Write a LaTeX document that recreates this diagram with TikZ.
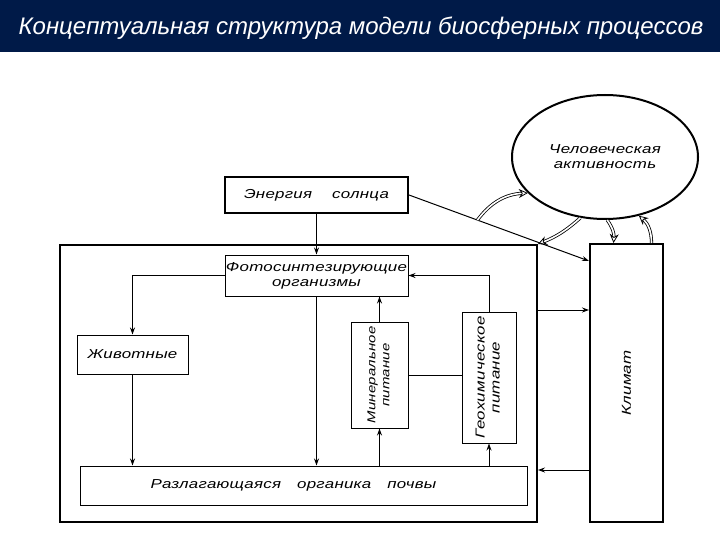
\documentclass[tikz,border=0pt]{standalone}
\usepackage{graphicx}
\usepackage{fontspec}
\setmainfont{Liberation Sans}
\newfontfamily\boxfont[FakeStretch=1.3,LetterSpace=2]{Liberation Sans}
\usetikzlibrary{shapes.geometric,arrows.meta,positioning,calc}
\definecolor{slidenavy}{RGB}{0,26,72}

\begin{document}
\begin{tikzpicture}[
  x=1pt, y=-1pt,
  box/.style={rectangle, draw, line width=1pt, fill=white, inner sep=0pt, align=center, font=\boxfont\itshape\fontsize{13}{15}\selectfont},
  heavy/.style={box, line width=2pt},
  arrow/.style={-{Stealth[length=7pt,width=5pt]}, line width=1pt},
  hollow/.style={double, double distance=1.6pt, line width=0.8pt, -{Stealth[open,length=9pt,width=9pt]}}
]
\useasboundingbox (0,0) rectangle (720,540);

% Title bar
\fill[slidenavy] (0,0) rectangle (720,52);
\node[anchor=west, text=white, font=\itshape\fontsize{24}{27}\selectfont] (title) at (15,28) {Концептуальная структура модели биосферных процессов};

% Outer system and climate
\node[heavy, minimum width=477pt, minimum height=277pt] (system) at (298.5,383.5) {};
\node[heavy, minimum width=73pt, minimum height=278pt] (climate) at (626.5,383) {\rotatebox{90}{Климат}};
\node[ellipse, draw, line width=2pt, fill=white, minimum width=186pt, minimum height=124pt, align=center, font=\boxfont\itshape\fontsize{13}{15}\selectfont] (human) at (605,157) {Человеческая\\активность};

% Boxes
\node[heavy, minimum width=183pt, minimum height=36pt] (energy) at (316.5,195) {Энергия\hspace{20pt}солнца};
\node[box, minimum width=183pt, minimum height=41pt] (photo) at (316.5,275.5) {Фотосинтезирующие\\организмы};
\node[box, minimum width=111pt, minimum height=39pt] (animals) at (132.5,354.5) {Животные};
\node[box, minimum width=57pt, minimum height=106pt, font=\boxfont\itshape\fontsize{11.5}{14}\selectfont] (minerals) at (379.5,375) {\rotatebox{90}{\begin{tabular}{@{}c@{}}Минеральное\\питание\end{tabular}}};
\node[box, minimum width=54pt, minimum height=131pt] (geochem) at (489,377.5) {\rotatebox{90}{\begin{tabular}{@{}c@{}}Геохимическое\\питание\end{tabular}}};
\node[box, minimum width=447pt, minimum height=39pt] (soil) at (303.5,485.5) {\hspace*{-20pt}Разлагающаяся\hspace{16pt}органика\hspace{16pt}почвы};

% Levels for side arrows
\coordinate (lvlin) at (0,310);
\coordinate (lvlout) at (0,470);
\coordinate (sunhit) at ([yshift=-18pt]climate.north west);
\coordinate (sunfork) at ($(energy.east)!0.38!(sunhit)$);

% Connectors
\draw[arrow] (energy.south) -- (photo.north);
\draw[arrow] (energy.east) -- (sunhit);
\draw[arrow] (photo.west) -| (animals.north);
\draw[arrow] (animals.south) -- (animals.south |- soil.north);
\draw[arrow] (photo.south) -- (photo.south |- soil.north);
\draw[arrow] (minerals.south |- soil.north) -- (minerals.south);
\draw[arrow] (minerals.north) -- (minerals.north |- photo.south);
\draw (minerals.east) -- (minerals.east -| geochem.west);
\draw[arrow] (geochem.south |- soil.north) -- (geochem.south);
\draw[arrow] (geochem.north) |- (photo.east);
\draw[arrow] (system.east |- lvlin) -- (climate.west |- lvlin);
\draw[arrow] (climate.west |- lvlout) -- (system.east |- lvlout);

% Links with human activity
\draw[hollow] (sunfork) to[bend left=25] (human.205);
\draw[hollow] (human.248) to[bend left=10] (system.north east);
\draw[hollow] (human.272) to[bend left=20] ([xshift=-13pt]climate.north);
\draw[hollow] ([xshift=25pt]climate.north) to[bend right=25] (human.300);

\end{tikzpicture}
\end{document}
